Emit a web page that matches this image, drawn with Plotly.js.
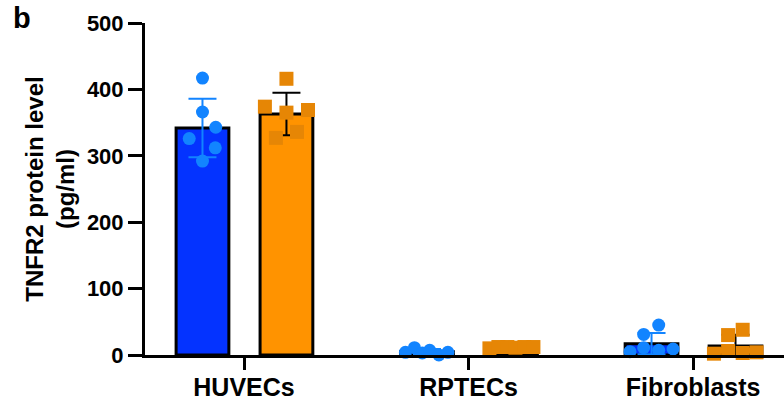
<!DOCTYPE html>
<html>
<head>
<meta charset="utf-8">
<script src="https://cdn.plot.ly/plotly-3.0.1.min.js"></script>
<style>
  html, body { margin: 0; padding: 0; background: #fff; }
  #chart { width: 784px; height: 404px; }
</style>
</head>
<body>
<div id="chart"></div>
<script>
// ---- data ----
const categories = ["HUVECs", "RPTECs", "Fibroblasts"];

// bar heights (means) and SD
const ctrlMean = [342, 5, 17];
const ctrlSD   = [44, 4, 16];
const trtMean  = [363, 11.5, 13.5];
const trtSD    = [32, 1, 17];

// individual replicate values per category (6 each)
const ctrlPoints = [
  [417, 366, 343, 326, 312, 292],
  [4, 11, 3, 7, 0, 4],
  [5, 11, 31, 45, 7, 9]
];
const trtPoints = [
  [416, 374, 365, 369, 327, 336],
  [10, 12, 12, 11, 12, 12],
  [2, 6, 30, 38, 3, 4]
];
// horizontal spread of the replicate dots (in category units)
const ctrlJitter = [
  [0, 0, 0.059, -0.059, 0.057, 0],
  [-0.096, -0.056, -0.021, 0.012, 0.053, 0.093],
  [-0.096, -0.035, -0.035, 0.032, 0.032, 0.096]
];
const trtJitter = [
  [0, -0.096, 0, 0.096, -0.047, 0.047],
  [-0.096, -0.056, -0.016, 0.020, 0.060, 0.100],
  [-0.096, -0.033, -0.033, 0.032, 0.032, 0.094]
];
const yTicks = [0, 100, 200, 300, 400, 500];

// ---- layout constants ----
const OFF_C = -0.185, OFF_T = 0.189, BAR_W = 0.235;
const FONT = "Liberation Sans, Arial, sans-serif";
const idx = categories.map((_, i) => i);

function flatPts(points, jitter, off) {
  const xs = [], ys = [];
  points.forEach((arr, i) => arr.forEach((v, j) => { xs.push(i + off + jitter[i][j]); ys.push(v); }));
  return { xs, ys };
}
const cp = flatPts(ctrlPoints, ctrlJitter, OFF_C);
const tp = flatPts(trtPoints, trtJitter, OFF_T);

const traces = [
  {
    type: "bar", x: idx.map(i => i + OFF_C), y: ctrlMean, width: BAR_W,
    marker: { color: "rgb(4,51,255)", line: { color: "#000", width: 3 } },
    error_y: { type: "data", array: ctrlSD, visible: true, color: "rgb(18,132,255)", thickness: 2, width: 14 },
    hoverinfo: "skip", showlegend: false
  },
  {
    type: "bar", x: idx.map(i => i + OFF_T), y: trtMean, width: BAR_W,
    marker: { color: "rgb(255,147,0)", line: { color: "#000", width: 3 } },
    error_y: { type: "data", array: trtSD, visible: true, color: "#000", thickness: 2, width: 14 },
    hoverinfo: "skip", showlegend: false
  },
  {
    type: "scatter", mode: "markers", x: cp.xs, y: cp.ys, cliponaxis: false,
    marker: { symbol: "circle", size: 13, color: "rgb(18,132,255)", line: { width: 0 } },
    hoverinfo: "skip", showlegend: false
  },
  {
    type: "scatter", mode: "markers", x: tp.xs, y: tp.ys, cliponaxis: false,
    marker: { symbol: "square", size: 14, color: "rgb(230,134,5)", line: { width: 0 } },
    hoverinfo: "skip", showlegend: false
  }
];

const layout = {
  width: 784, height: 404,
  margin: { l: 145, r: 0, t: 23, b: 49, pad: 0 },
  paper_bgcolor: "#fff", plot_bgcolor: "#fff",
  barmode: "overlay",
  font: { family: FONT, color: "#000" },
  xaxis: {
    range: [-0.441, 2.405], tickvals: idx, ticktext: categories,
    showgrid: false, zeroline: false, showline: true, linecolor: "#000", linewidth: 3,
    ticks: "outside", ticklen: 12, tickwidth: 3, tickcolor: "#000",
    ticklabelstandoff: -4,
    tickfont: { family: FONT, size: 25, weight: 700, color: "#000" }, fixedrange: true
  },
  yaxis: {
    range: [0, 500], tickvals: yTicks, ticktext: yTicks.map(String),
    showgrid: false, zeroline: false, showline: true, linecolor: "#000", linewidth: 3,
    ticks: "outside", ticklen: 14, tickwidth: 3, tickcolor: "#000",
    tickfont: { family: FONT, size: 22, weight: 700, color: "#000" },
    title: { text: "TNFR2 protein level<br>(pg/ml)", font: { family: FONT, size: 24, weight: 700, color: "#000" }, standoff: 6 },
    fixedrange: true
  },
  annotations: [{
    text: "b", xref: "paper", yref: "paper", x: -0.209, y: 1.07,
    xanchor: "left", yanchor: "top", showarrow: false,
    font: { family: FONT, size: 29, weight: 700, color: "#000" }
  }]
};

Plotly.newPlot("chart", traces, layout, { staticPlot: true, displayModeBar: false });
</script>
</body>
</html>
